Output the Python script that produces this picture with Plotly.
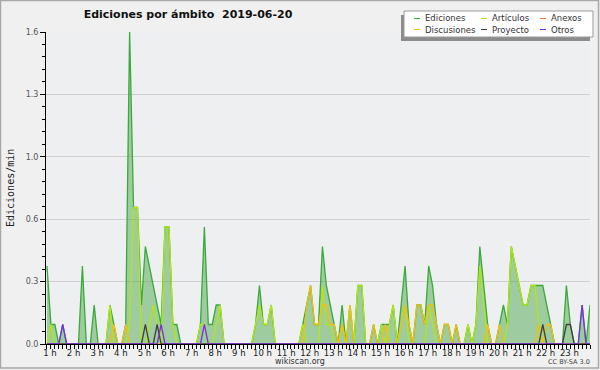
import plotly.graph_objects as go

# ---- data (edits per minute, 10-minute steps starting 1 h) ----
ediciones = [
    0.4, 0.1, 0.1, 0, 0.1, 0, 0, 0, 0, 0.4, 0, 0,
    0.2, 0, 0, 0, 0.2, 0.1, 0, 0, 0.1, 1.6, 0.7, 0.7,
    0.2, 0.5, 0.4, 0.3, 0.2, 0.1, 0.6, 0.6, 0.1, 0.1, 0, 0,
    0, 0, 0, 0.1, 0.6, 0.1, 0.1, 0.2, 0.2, 0, 0, 0,
    0, 0, 0, 0, 0, 0.1, 0.3, 0.1, 0.1, 0.2, 0, 0,
    0, 0, 0, 0, 0, 0.1, 0.2, 0.3, 0.1, 0.1, 0.5, 0.3,
    0.2, 0.1, 0, 0.2, 0, 0.2, 0, 0.3, 0.3, 0, 0, 0.1,
    0, 0.1, 0.1, 0.1, 0.2, 0, 0.2, 0.4, 0.1, 0, 0.2, 0.2,
    0.1, 0.4, 0.3, 0.1, 0, 0.1, 0.1, 0, 0.1, 0, 0, 0.1,
    0, 0.1, 0.5, 0.3, 0.1, 0, 0, 0.1, 0.2, 0.1, 0.5, 0.4,
    0.3, 0.2, 0.2, 0.3, 0.3, 0.3, 0.3, 0.2, 0.1, 0, 0, 0,
    0.3, 0.1, 0, 0, 0.2, 0, 0.2,
]
articulos = [
    0, 0.1, 0, 0, 0, 0, 0, 0, 0, 0, 0, 0,
    0, 0, 0, 0, 0.2, 0, 0, 0, 0, 0.1, 0.7, 0.7,
    0, 0, 0.1, 0.2, 0.1, 0, 0.6, 0.6, 0.1, 0, 0, 0,
    0, 0, 0, 0.1, 0.1, 0, 0, 0.1, 0.2, 0, 0, 0,
    0, 0, 0, 0, 0, 0.1, 0.2, 0.1, 0.1, 0.2, 0, 0,
    0, 0, 0, 0, 0, 0.1, 0, 0, 0, 0, 0.3, 0.1,
    0.1, 0, 0, 0.1, 0, 0.2, 0, 0.3, 0.3, 0, 0, 0,
    0, 0.1, 0, 0.1, 0.2, 0, 0.1, 0.2, 0, 0, 0, 0,
    0, 0.2, 0.1, 0, 0, 0, 0, 0, 0, 0, 0, 0.1,
    0, 0.1, 0.4, 0.2, 0, 0, 0, 0, 0, 0.1, 0.5, 0.4,
    0.3, 0.2, 0.2, 0.3, 0.3, 0.1, 0, 0, 0, 0, 0, 0,
    0, 0, 0, 0, 0, 0, 0,
]
anexos = [
    0, 0, 0, 0, 0, 0, 0, 0, 0, 0, 0, 0,
    0, 0, 0, 0, 0, 0, 0, 0, 0, 0, 0, 0,
    0, 0, 0, 0, 0, 0, 0, 0, 0, 0, 0, 0,
    0, 0, 0, 0, 0, 0, 0, 0, 0, 0, 0, 0,
    0, 0, 0, 0, 0, 0, 0, 0, 0, 0, 0, 0,
    0, 0, 0, 0, 0, 0, 0, 0, 0, 0, 0, 0,
    0, 0, 0, 0, 0, 0, 0, 0, 0, 0, 0, 0,
    0, 0, 0, 0, 0, 0, 0, 0, 0, 0, 0, 0,
    0, 0, 0, 0, 0, 0, 0, 0, 0, 0, 0, 0,
    0, 0, 0, 0, 0, 0, 0, 0, 0, 0, 0, 0,
    0, 0, 0, 0, 0, 0, 0, 0, 0, 0, 0, 0,
    0, 0, 0, 0, 0, 0, 0,
]
discusiones = [
    0, 0, 0, 0, 0, 0, 0, 0, 0, 0, 0, 0,
    0, 0, 0, 0, 0, 0.1, 0, 0, 0.1, 0, 0, 0,
    0, 0, 0, 0, 0, 0, 0, 0, 0, 0, 0, 0,
    0, 0, 0, 0, 0, 0, 0, 0, 0, 0, 0, 0,
    0, 0, 0, 0, 0, 0, 0, 0, 0, 0, 0, 0,
    0, 0, 0, 0, 0, 0, 0.2, 0.3, 0.1, 0.1, 0.2, 0.2,
    0.1, 0.1, 0, 0.1, 0, 0.2, 0, 0, 0, 0, 0, 0.1,
    0, 0, 0.1, 0, 0, 0, 0.1, 0.2, 0.1, 0, 0.2, 0.2,
    0.1, 0.2, 0.2, 0.1, 0, 0.1, 0.1, 0, 0.1, 0, 0, 0,
    0, 0, 0, 0, 0.1, 0, 0, 0.1, 0, 0, 0, 0,
    0, 0, 0, 0, 0, 0.1, 0, 0.1, 0.1, 0, 0, 0,
    0, 0, 0, 0, 0, 0, 0,
]
proyecto = [
    0, 0, 0, 0, 0, 0, 0, 0, 0, 0, 0, 0,
    0, 0, 0, 0, 0, 0, 0, 0, 0, 0, 0, 0,
    0, 0.1, 0, 0, 0.1, 0, 0, 0, 0, 0, 0, 0,
    0, 0, 0, 0, 0, 0, 0, 0, 0, 0, 0, 0,
    0, 0, 0, 0, 0, 0, 0, 0, 0, 0, 0, 0,
    0, 0, 0, 0, 0, 0, 0, 0, 0, 0, 0, 0,
    0, 0, 0, 0, 0, 0, 0, 0, 0, 0, 0, 0,
    0, 0, 0, 0, 0, 0, 0, 0, 0, 0, 0, 0,
    0, 0, 0, 0, 0, 0, 0, 0, 0, 0, 0, 0,
    0, 0, 0, 0, 0, 0, 0, 0, 0, 0, 0, 0,
    0, 0, 0, 0, 0, 0, 0.1, 0, 0, 0, 0, 0,
    0.1, 0.1, 0, 0, 0, 0, 0,
]
otros = [
    0, 0, 0, 0, 0.1, 0, 0, 0, 0, 0, 0, 0,
    0, 0, 0, 0, 0, 0, 0, 0, 0, 0, 0, 0,
    0, 0, 0, 0, 0, 0.1, 0, 0, 0, 0, 0, 0,
    0, 0, 0, 0, 0.1, 0, 0, 0, 0, 0, 0, 0,
    0, 0, 0, 0, 0, 0, 0, 0, 0, 0, 0, 0,
    0, 0, 0, 0, 0, 0, 0, 0, 0, 0, 0, 0,
    0, 0, 0, 0, 0, 0, 0, 0, 0, 0, 0, 0,
    0, 0, 0, 0, 0, 0, 0, 0, 0, 0, 0, 0,
    0, 0, 0, 0, 0, 0, 0, 0, 0, 0, 0, 0,
    0, 0, 0, 0, 0, 0, 0, 0, 0, 0, 0, 0,
    0, 0, 0, 0, 0, 0, 0, 0, 0, 0, 0, 0,
    0, 0, 0, 0, 0.2, 0, 0,
]

hour_labels = ["1 h", "2 h", "3 h", "4 h", "5 h", "6 h", "7 h", "8 h", "9 h",
               "10 h", "11 h", "12 h", "13 h", "14 h", "15 h", "16 h", "17 h",
               "18 h", "19 h", "20 h", "21 h", "22 h", "23 h"]
hour_positions = [0, 6, 12, 18, 24, 30, 36, 42, 48, 54, 60, 66, 72, 78, 84,
                  90, 96, 102, 108, 114, 120, 126, 132]
y_tick_values = [0, 0.32, 0.64, 0.96, 1.28, 1.6]
y_tick_labels = ["0.0", "0.3", "0.6", "1.0", "1.3", "1.6"]

series_names = ["Ediciones", "Artículos", "Anexos", "Discusiones", "Proyecto", "Otros"]
series_colors = ["#3aaa3a", "#b4e614", "#f07040", "#f0c010", "#404040", "#7a30e0"]

x = list(range(len(ediciones)))

fig = go.Figure()
fig.add_trace(go.Scatter(x=x, y=ediciones, mode="lines", name=series_names[0],
                         line=dict(color=series_colors[0], width=1.3),
                         fill="tozeroy", fillcolor="rgba(60,160,60,0.45)",
                         showlegend=False, hoverinfo="skip"))
for name, vals, col in zip(series_names[1:],
                           [articulos, anexos, discusiones, proyecto, otros],
                           series_colors[1:]):
    fig.add_trace(go.Scatter(x=x, y=vals, mode="lines", name=name,
                             line=dict(color=col, width=1.3),
                             showlegend=False, hoverinfo="skip"))

L, R, T, B = 46, 10, 32, 26
W, H = 600, 370
PW, PH = W - L - R, H - T - B


def px(xp):
    return (xp - L) / PW


def py(yp):
    return (H - B - yp) / PH


fig.update_layout(
    width=W, height=H,
    margin=dict(l=L, r=R, t=T, b=B),
    paper_bgcolor="#f0f0f0",
    plot_bgcolor="#eeeff1",
    font=dict(family="DejaVu Sans", size=8, color="#333"),
    title=dict(text="<b>Ediciones por ámbito \u00a02019-06-20</b>",
               font=dict(family="DejaVu Sans", size=11, color="#111"),
               xref="container", yref="container",
               x=188 / W, xanchor="center", y=1 - 14 / H, yanchor="middle"),
    xaxis=dict(range=[-0.25, 138], tickmode="array", tickvals=hour_positions,
               ticktext=hour_labels, ticks="outside", ticklen=4, tickwidth=1,
               tickcolor="black", showline=True, linecolor="black", linewidth=1,
               showgrid=False, zeroline=False, ticklabelshift=3,
               ticklabelstandoff=-3,
               tickfont=dict(family="DejaVu Sans", size=8.5, color="#222"),
               minor=dict(tickmode="linear", tick0=0, dtick=1, ticks="outside",
                          ticklen=4, tickcolor="black", showgrid=False)),
    yaxis=dict(range=[0, 1.6], tickmode="array", tickvals=y_tick_values,
               ticktext=y_tick_labels, ticks="outside", ticklen=5,
               tickcolor="black", showline=True, linecolor="black", linewidth=1,
               showgrid=True, gridcolor="#cfcfcf", gridwidth=1, zeroline=False,
               tickfont=dict(family="DejaVu Sans", size=8, color="#555"),
               minor=dict(tickmode="linear", tick0=0, dtick=0.064,
                          ticks="outside", ticklen=3, tickcolor="black",
                          showgrid=False)),
)

shapes = []
# outer border
shapes.append(dict(type="rect", xref="paper", yref="paper",
                   x0=px(0.5), x1=px(598.5), y0=py(0.5), y1=py(368),
                   line=dict(color="#a8a8a8", width=1.5), layer="above"))
# legend shadow + box
shapes.append(dict(type="rect", xref="paper", yref="paper",
                   x0=px(401), x1=px(590), y0=py(15), y1=py(41),
                   fillcolor="#8c8c8c", line=dict(width=0), layer="above"))
shapes.append(dict(type="rect", xref="paper", yref="paper",
                   x0=px(404), x1=px(593), y0=py(11), y1=py(37),
                   fillcolor="white", line=dict(color="#9a9a9a", width=1),
                   layer="above"))

annotations = []
legend_cols = [414, 481, 540]
legend_rows = [18.5, 29.5]
for k, (name, col) in enumerate(zip(series_names, series_colors)):
    r, c = divmod(k, 3)
    xl = legend_cols[c]
    yl = legend_rows[r]
    shapes.append(dict(type="line", xref="paper", yref="paper",
                       x0=px(xl), x1=px(xl + 6), y0=py(yl), y1=py(yl),
                       line=dict(color=col, width=1), layer="above"))
    annotations.append(dict(text=name, xref="paper", yref="paper",
                            x=px(xl + 9), y=py(yl), xanchor="left",
                            yanchor="middle", showarrow=False,
                            font=dict(family="DejaVu Sans", size=8.5, color="#333")))

annotations.append(dict(text="Ediciones/min", xref="paper", yref="paper",
                        x=px(10), y=py(188), textangle=-90, showarrow=False,
                        xanchor="center", yanchor="middle",
                        font=dict(family="DejaVu Sans Mono", size=10, color="#222")))
annotations.append(dict(text="wikiscan.org", xref="paper", yref="paper",
                        x=px(300), y=py(361), showarrow=False,
                        xanchor="center", yanchor="middle",
                        font=dict(family="DejaVu Sans", size=8, color="#333")))
annotations.append(dict(text="CC BY-SA 3.0", xref="paper", yref="paper",
                        x=px(569), y=py(362), showarrow=False,
                        xanchor="center", yanchor="middle",
                        font=dict(family="DejaVu Sans", size=6.5, color="#444")))

fig.update_layout(shapes=shapes, annotations=annotations)

fig.write_html("out.html",
               config={"displayModeBar": False},
               post_script="document.body.style.margin='0';"
                           "document.body.style.padding='0';")
